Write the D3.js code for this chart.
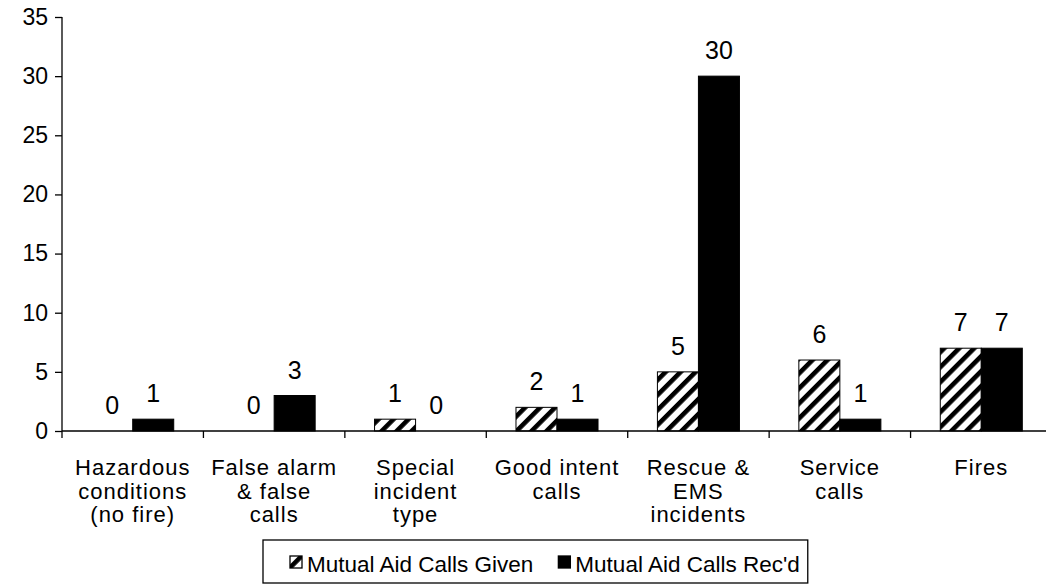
<!DOCTYPE html>
<html><head><meta charset="utf-8">
<script src="https://cdn.jsdelivr.net/npm/d3@7"></script>
<style>
html,body{margin:0;padding:0;background:#fff;}
text{font-family:Arial,"Liberation Sans",sans-serif;fill:#000;}
</style></head>
<body>
<svg id="chart" width="1046" height="585"></svg>
<script>
const categories = [
  ["Hazardous","conditions","(no fire)"],
  ["False alarm","& false","calls"],
  ["Special","incident","type"],
  ["Good intent","calls"],
  ["Rescue &","EMS","incidents"],
  ["Service","calls"],
  ["Fires"]
];
const categoryKeys = ["Hazardous conditions (no fire)","False alarm & false calls","Special incident type","Good intent calls","Rescue & EMS incidents","Service calls","Fires"];
const seriesNames = ["Mutual Aid Calls Given","Mutual Aid Calls Rec'd"];
const givenValues = [0,0,1,2,5,6,7];
const recdValues  = [1,3,0,1,30,1,7];
const yTicks = [0,5,10,15,20,25,30,35];

const svg = d3.select("#chart");
const defs = svg.append("defs");
const pat = defs.append("pattern").attr("id","hatch")
  .attr("patternUnits","userSpaceOnUse").attr("width",10.6).attr("height",10.6)
  .attr("patternTransform","rotate(45)");
pat.append("rect").attr("width",10.6).attr("height",10.6).attr("fill","#fff");
pat.append("rect").attr("x",0).attr("width",4.6).attr("height",10.6).attr("fill","#000");

const pL = 62, pR = 1052, pT = 17, pB = 431;
const y = d3.scaleLinear().domain([0,35]).range([pB, pT]);
const x0 = d3.scaleBand().domain(categoryKeys).range([pL, pR]).paddingInner(0).paddingOuter(0);
const bw = x0.bandwidth();
const x1 = d3.scaleBand().domain(seriesNames).range([bw*0.21, bw*0.79]);

const data = categoryKeys.map((c,i)=>({cat:c, vals:[givenValues[i], recdValues[i]]}));

// bars
const g = svg.append("g");
data.forEach((d)=>{
  d.vals.forEach((v,j)=>{
    const bx = x0(d.cat) + x1(seriesNames[j]);
    if (v > 0) {
      g.append("rect")
        .attr("x", bx).attr("y", y(v))
        .attr("width", x1.bandwidth()).attr("height", y(0)-y(v))
        .attr("fill", j===0 ? "url(#hatch)" : "#000")
        .attr("stroke","#000").attr("stroke-width",1);
    }
    g.append("text")
      .attr("x", bx + x1.bandwidth()/2)
      .attr("y", y(v) - 17)
      .attr("text-anchor","middle")
      .style("font-size","25px")
      .text(v);
  });
});

// y axis
const yAxis = d3.axisLeft(y).tickValues(yTicks).tickSize(7).tickPadding(7);
const ya = svg.append("g").attr("transform",`translate(${pL},0)`).call(yAxis);
ya.select(".domain").attr("stroke","#000").attr("stroke-width",1.3).attr("d",`M0,${pT}V${pB}`);
ya.selectAll(".tick line").attr("stroke","#000").attr("stroke-width",1.3);
ya.selectAll(".tick text").style("font-size","23px").style("font-family","Arial, 'Liberation Sans', sans-serif").attr("fill","#000");

// x axis
const xa = svg.append("g").attr("transform",`translate(0,${pB})`);
xa.append("line").attr("x1",pL).attr("x2",pR).attr("y1",0).attr("y2",0).attr("stroke","#000").attr("stroke-width",1.3);
categoryKeys.forEach(c=>{
  const bx = x0(c);
  xa.append("line").attr("x1",bx).attr("x2",bx).attr("y1",0).attr("y2",7).attr("stroke","#000").attr("stroke-width",1.3);
});
categories.forEach((lines,i)=>{
  const cx = x0(categoryKeys[i]) + bw/2;
  const t = svg.append("text").attr("text-anchor","middle").style("font-size","22px").style("letter-spacing","1px");
  lines.forEach((ln,k)=>{
    t.append("tspan").attr("x",cx).attr("y",475 + k*23.7).text(ln);
  });
});

// legend
const lg = svg.append("g");
const box = lg.append("rect").attr("x",263).attr("y",540).attr("height",43).attr("fill","#fff").attr("stroke","#000").attr("stroke-width",1.3);
let lx = 290;
seriesNames.forEach((s,j)=>{
  lg.append("rect").attr("x",lx).attr("y",556).attr("width",12).attr("height",12)
    .attr("fill", j===0 ? "url(#hatch)" : "#000").attr("stroke","#000").attr("stroke-width",1.3);
  const t = lg.append("text").attr("x",lx+17).attr("y",572).style("font-size","22.5px").text(s);
  const w = t.node().getComputedTextLength();
  lx = lx + 17 + w + (j===0 ? 25 : 0);
});
box.attr("width", lx + 8 - 263);
</script>
</body></html>
